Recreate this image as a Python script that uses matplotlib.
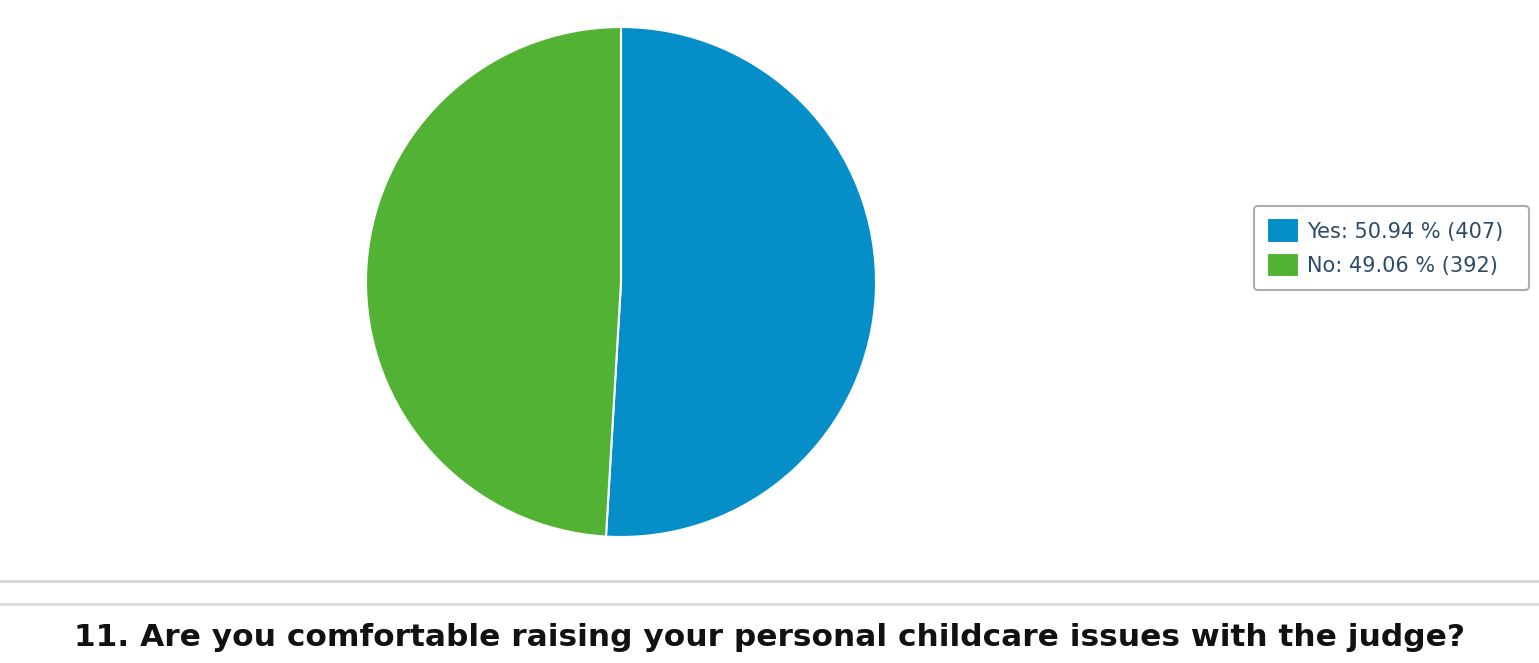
import matplotlib
matplotlib.use("Agg")
import matplotlib.pyplot as plt
from matplotlib.lines import Line2D

answers = ['Yes', 'No']
counts = [407, 392]
percents = [50.94, 49.06]
colors = ['#068ec9', '#52b234']

question = '11. Are you comfortable raising your personal childcare issues with the judge?'

W, H = 1539, 663
fig = plt.figure(figsize=(W / 100, H / 100), dpi=100)

# pie: centre (621, 282) px, radius 255 px
cx, cy, r = 621, 282, 255
ax = fig.add_axes([(cx - r) / W, (H - cy - r) / H, 2 * r / W, 2 * r / H])
wedges, _ = ax.pie(counts, colors=colors, startangle=90, counterclock=False,
                   radius=1, wedgeprops=dict(edgecolor='white', linewidth=1.5))
ax.set_xlim(-1, 1)
ax.set_ylim(-1, 1)
ax.set_aspect('equal')
ax.axis('off')

labels = [f'{a}: {p:.2f} % ({c})  ' for a, c, p in zip(answers, counts, percents)]
leg = fig.legend(wedges, labels, loc='upper left',
                 bbox_to_anchor=(1254 / W, 1 - 206 / H),
                 fontsize=15, frameon=True, fancybox=True,
                 edgecolor='#999999', handlelength=1.55, handleheight=1.45,
                 handletextpad=0.4, labelspacing=0.45, borderpad=0.6,
                 borderaxespad=0)
leg.get_frame().set_linewidth(1.5)
for t in leg.get_texts():
    t.set_color('#2e4a6b')

# separator lines
for yy in (581, 604):
    fig.add_artist(Line2D([0, 1], [1 - yy / H, 1 - yy / H], transform=fig.transFigure,
                          color='#d9d9d9', linewidth=2))

fig.text(770 / W, 1 - 638 / H, question, ha='center', va='center',
         fontsize=22.5, fontweight='bold', color='#111111')

fig.savefig('out.png', dpi=100, facecolor='white')
